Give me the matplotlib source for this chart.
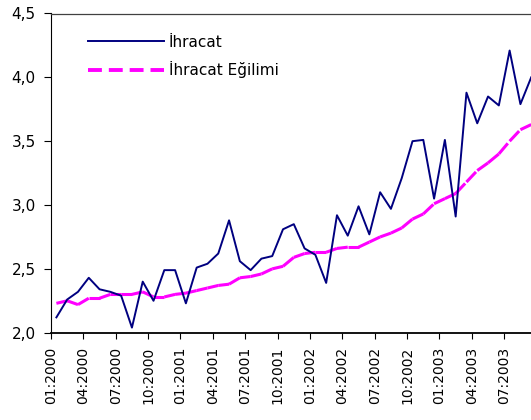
import matplotlib
matplotlib.use("Agg")
from matplotlib import pyplot as plt
from matplotlib.lines import Line2D
import numpy as np

plt.rcParams["font.family"] = ["DejaVu Sans"]
plt.rcParams["lines.scale_dashes"] = False

# monthly series, 01:2000 - 09:2003
months = ["%02d:%d" % (m, y) for y in range(2000, 2004) for m in range(1, 13)][:45]

ihracat = [2.12, 2.26, 2.32, 2.43, 2.34, 2.32, 2.29, 2.04, 2.40, 2.25, 2.49, 2.49,
           2.23, 2.51, 2.54, 2.62, 2.88, 2.56, 2.49, 2.58, 2.60, 2.81, 2.85, 2.66,
           2.61, 2.39, 2.92, 2.76, 2.99, 2.77, 3.10, 2.97, 3.21, 3.50, 3.51, 3.05,
           3.51, 2.91, 3.88, 3.64, 3.85, 3.78, 4.21, 3.79, 4.00]

egilim = [2.23, 2.25, 2.22, 2.27, 2.27, 2.30, 2.30, 2.30, 2.32, 2.28, 2.28, 2.30,
          2.31, 2.33, 2.35, 2.37, 2.38, 2.43, 2.44, 2.46, 2.50, 2.52, 2.59, 2.62,
          2.63, 2.63, 2.66, 2.67, 2.67, 2.71, 2.75, 2.78, 2.82, 2.89, 2.93, 3.01,
          3.05, 3.09, 3.18, 3.27, 3.33, 3.40, 3.50, 3.59, 3.63]

yticks = [2.0, 2.5, 3.0, 3.5, 4.0, 4.5]
ytick_labels = ["2,0", "2,5", "3,0", "3,5", "4,0", "4,5"]

navy = "#000080"
pink = "#FF00FF"

x = np.arange(len(months))

fig = plt.figure(figsize=(5.31, 4.2), dpi=100)
ax = fig.add_axes([51 / 531, (420 - 332.7) / 420, (536.6 - 51) / 531, (332.7 - 13.5) / 420])

ax.plot(x, ihracat, color=navy, lw=1.4, zorder=3)

# trend line drawn segment by segment so the dash pattern restarts on each one
for i in range(len(x) - 1):
    ax.plot(x[i:i + 2], egilim[i:i + 2], color=pink, lw=2.2,
            dashes=(10, 5), dash_capstyle="butt", zorder=2)

ax.set_xlim(-0.5, len(months) - 0.5)
ax.set_ylim(2.0, 4.5)
ax.set_yticks(yticks)
ax.set_yticklabels(ytick_labels, fontsize=11)

tick_pos = x[::3] - 0.5
ax.set_xticks(tick_pos)
ax.set_xticklabels(months[::3], rotation=90, fontsize=10, va="top")

ax.tick_params(axis="y", direction="out", length=5, width=0.8, pad=6)
ax.tick_params(axis="x", direction="out", length=4, width=0.8, pad=6)

ax.spines["left"].set_linewidth(0.8)
ax.spines["bottom"].set_linewidth(1.3)
ax.spines["top"].set_color("#404040")
ax.spines["top"].set_linewidth(0.9)
ax.spines["right"].set_visible(False)

handles = [Line2D([], [], color=navy, lw=1.4),
           Line2D([], [], color=pink, lw=2.8, dashes=(10, 5), dash_capstyle="butt")]
ax.legend(handles, ["İhracat", "İhracat Eğilimi"], loc="center left",
          bbox_to_anchor=(0.0756, 0.866), frameon=False, fontsize=11,
          handlelength=4.97, handletextpad=0.35, borderpad=0, borderaxespad=0,
          labelspacing=0.75)

fig.savefig("out.png", dpi=100)
